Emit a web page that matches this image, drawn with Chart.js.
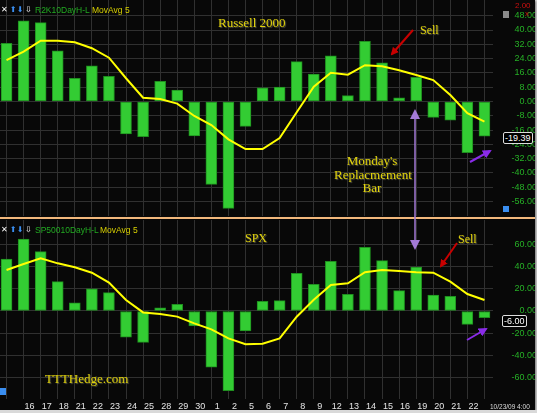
<!DOCTYPE html>
<html>
<head>
<meta charset="utf-8">
<script src="https://cdn.jsdelivr.net/npm/chart.js@4/dist/chart.umd.min.js"></script>
<style>
html, body { margin: 0; padding: 0; background: #d9d9d9; }
#wrap { position: relative; width: 535px; height: 410px; background: #080808; overflow: hidden; box-shadow: 1px 1px 2px #777; }
canvas { position: absolute; left: -2px; }
#top { top: 0; }
#bot { top: 220px; }
#sep { position: absolute; left: 0; top: 217px; width: 535px; height: 2px; background: #f2b87c; }
.t { position: absolute; white-space: nowrap; }
.leg { font: 8.5px "Liberation Sans", Arial, sans-serif; }
.ico { font: 8px "DejaVu Sans", sans-serif; }
.ser { font-family: "Liberation Serif", "Times New Roman", serif; color: #e2d40e; text-shadow: 1px 1px 1px #554; }
.badge { position: absolute; border: 1px solid #ddd; border-radius: 2px; background: #000; color: #fff; font: 9px "Liberation Sans", Arial, sans-serif; padding: 0 1px; line-height: 10px; }
svg { position: absolute; left: 0; top: 0; }
</style>
</head>
<body>
<div id="wrap">
  <canvas id="top" width="539" height="216"></canvas>
  <div id="sep"></div>
  <canvas id="bot" width="539" height="193"></canvas>

  <div class="t ico" style="left:1px;top:5px;color:#fff">✕</div>
  <div class="t ico" style="left:10px;top:5px;color:#3a8ef0">⬆</div>
  <div class="t ico" style="left:17px;top:5px;color:#3a8ef0">⬇</div>
  <div class="t ico" style="left:25px;top:5px;color:#fff">⇩</div>
  <div class="t leg" style="left:35px;top:5px;color:#22aa22">R2K10DayH-L</div>
  <div class="t leg" style="left:92px;top:5px;color:#d8d000">MovAvg 5</div>
  <div class="t ico" style="left:1px;top:225px;color:#fff">✕</div>
  <div class="t ico" style="left:10px;top:225px;color:#3a8ef0">⬆</div>
  <div class="t ico" style="left:17px;top:225px;color:#3a8ef0">⬇</div>
  <div class="t ico" style="left:25px;top:225px;color:#fff">⇩</div>
  <div class="t leg" style="left:35px;top:225px;color:#22aa22">SP50010DayH-L</div>
  <div class="t leg" style="left:100px;top:225px;color:#d8d000">MovAvg 5</div>

  <div class="t ser" style="left:218px;top:15px;font-size:13px">Russell 2000</div>
  <div class="t ser" style="left:420px;top:23px;font-size:12px">Sell</div>
  <div class="t ser" style="left:334px;top:154px;width:76px;text-align:center;font-size:13px;line-height:13.5px">Monday's<br>Replacmement<br>Bar</div>
  <div class="t ser" style="left:245px;top:231px;font-size:12px">SPX</div>
  <div class="t ser" style="left:458px;top:232px;font-size:12px">Sell</div>
  <div class="t ser" style="left:45px;top:371px;font-size:13px">TTTHedge.com</div>

  <div class="badge" style="left:503px;top:132px">-19.39</div>
  <div class="badge" style="left:502px;top:315px">-6.00</div>

  <div class="t" style="left:515px;top:1px;font:8px 'Liberation Sans',Arial,sans-serif;color:#cc1010">2.00</div>
  <div class="t" style="left:525px;top:9px;font:8px 'Liberation Sans',Arial,sans-serif;color:#cc1010">x</div>
  <div class="t" style="left:503px;top:11px;width:6px;height:7px;background:#8a8a8a"></div>
  <div class="t" style="left:503px;top:206px;width:6px;height:6px;background:#3a8ef0"></div>
  <div class="t" style="left:0px;top:388px;width:6px;height:7px;background:#3a8ef0"></div>
  <div class="t" style="left:490px;top:403px;font:6.5px 'Liberation Sans',Arial,sans-serif;color:#ddd">10/23/09 4:00</div>

  <svg width="535" height="410">
    <defs>
      <marker id="hr" markerWidth="8" markerHeight="8" refX="6" refY="4" orient="auto" markerUnits="userSpaceOnUse"><path d="M0,0 L8,4 L0,8 z" fill="#c80000"/></marker>
      <marker id="hp" markerWidth="10" markerHeight="10" refX="8" refY="5" orient="auto" markerUnits="userSpaceOnUse"><path d="M0,0 L10,5 L0,10 z" fill="#a37ad6"/></marker>
      <marker id="hv" markerWidth="9" markerHeight="9" refX="7" refY="4.5" orient="auto" markerUnits="userSpaceOnUse"><path d="M0,0 L9,4.5 L0,9 z" fill="#8a2be8"/></marker>
    </defs>
    <line x1="413" y1="30" x2="392" y2="54" stroke="#c80000" stroke-width="2" marker-end="url(#hr)"/>
    <line x1="457" y1="243" x2="441" y2="266" stroke="#c80000" stroke-width="2" marker-end="url(#hr)"/>
    <line x1="415" y1="180" x2="415" y2="111" stroke="#a37ad6" stroke-width="1.5" marker-end="url(#hp)"/>
    <line x1="415" y1="180" x2="415" y2="248" stroke="#a37ad6" stroke-width="1.5" marker-end="url(#hp)"/>
    <line x1="470" y1="162" x2="490" y2="151" stroke="#8a2be8" stroke-width="2" marker-end="url(#hv)"/>
    <line x1="467" y1="340" x2="486" y2="329" stroke="#8a2be8" stroke-width="2" marker-end="url(#hv)"/>
  </svg>
</div>

<script>
// Sep 15 .. Oct 23 2009 trading days
const days = ['15','16','17','18','21','22','23','24','25','28','29','30','1','2','5','6','7','8','9','12','13','14','15','16','19','20','21','22','23'];
const tickLabels = ['','16','17','18','21','22','23','24','25','28','29','30','1','2','5','6','7','8','9','12','13','14','15','16','19','20','21','22',''];

// Russell 2000 10 day high-low
const r2kBars = [32.6, 45.2, 44.1, 28.3, 13.0, 20.0, 14.1, -18.2, -19.7, 11.3, 6.4, -19.3, -46.4, -59.8, -13.9,
  7.7, 8.0, 22.3, 15.4, 25.5, 3.3, 33.7, 21.6, 2.0, 13.5, -8.9, -10.4, -28.7, -19.39];
const r2kAvg = [23.2, 27.9, 34.0, 34.0, 33.1, 29.8, 24.5, 13.0, 2.1, 1.4, -1.2, -8.1, -13.2, -21.2, -26.6,
  -26.6, -20.5, -6.0, 8.3, 16.1, 15.0, 20.3, 19.7, 17.5, 14.8, 12.0, 3.6, -6.6, -11.3];
const r2kTicks = [48, 40, 32, 24, 16, 8, 0, -8, -16, -24, -32, -40, -48, -56];

// SPX 10 day high-low
const spxBars = [47.1, 65.3, 53.8, 26.6, 7.5, 20.2, 16.6, -23.8, -28.4, 2.8, 6.0, -13.6, -51.0, -72.2, -18.1,
  8.8, 9.4, 34.2, 24.2, 45.1, 15.1, 57.8, 45.6, 18.4, 39.9, 14.5, 13.3, -12.1, -6.0];
const spxAvg = [37.2, 42.6, 47.8, 43.2, 39.6, 34.7, 25.7, 10.0, -1.3, -2.7, -5.1, -11.2, -16.6, -24.8, -30.2,
  -29.6, -24.8, -5.2, 10.2, 23.6, 25.1, 35.1, 37.2, 36.3, 35.1, 34.7, 26.6, 15.4, 10.0];
const spxTicks = [60, 40, 20, 0, -20, -40, -60];

Chart.defaults.animation = false;
Chart.defaults.font.family = '"Liberation Sans", Arial, sans-serif';

function panel(id, bars, avg, ticks, yMin, yMax, showX) {
  return new Chart(document.getElementById(id), {
    type: 'bar',
    data: {
      labels: days,
      datasets: [{
        type: 'line',
        data: avg,
        borderColor: '#ffff00',
        borderWidth: 2,
        pointRadius: 0,
        tension: 0,
        order: 0
      }, {
        data: bars,
        backgroundColor: '#33cc33',
        borderColor: '#1f8f1f',
        borderWidth: 1,
        borderSkipped: false,
        barThickness: 11,
        order: 1
      }]
    },
    options: {
      responsive: false,
      devicePixelRatio: 1,
      layout: { padding: 0 },
      plugins: { legend: { display: false }, tooltip: { enabled: false } },
      scales: {
        x: {
          offset: true,
          grid: { offset: false, color: '#303030', drawTicks: false },
          border: { display: false },
          ticks: {
            display: showX,
            autoSkip: false,
            maxRotation: 0,
            labelOffset: 6,
            padding: 2,
            color: '#e6e6e6',
            font: { size: 9 },
            callback: (v, i) => tickLabels[i]
          },
          afterFit: s => { s.height = showX ? 14 : 0; s.paddingLeft = 0; s.paddingRight = 0; }
        },
        y: {
          position: 'right',
          min: yMin,
          max: yMax,
          grid: { color: '#303030', drawTicks: false },
          border: { display: false },
          ticks: {
            color: '#26b026',
            font: { size: 9 },
            padding: 2,
            crossAlign: 'far',
            callback: v => v.toFixed(2)
          },
          afterBuildTicks: s => { s.ticks = ticks.map(v => ({ value: v })); },
          afterFit: s => { s.width = 44; s.paddingTop = 0; s.paddingBottom = 0; }
        }
      }
    }
  });
}

panel('top', r2kBars, r2kAvg, r2kTicks, -64.1, 56.8, false);
panel('bot', spxBars, spxAvg, spxTicks, -79.8, 82.5, true);
</script>
</body>
</html>
